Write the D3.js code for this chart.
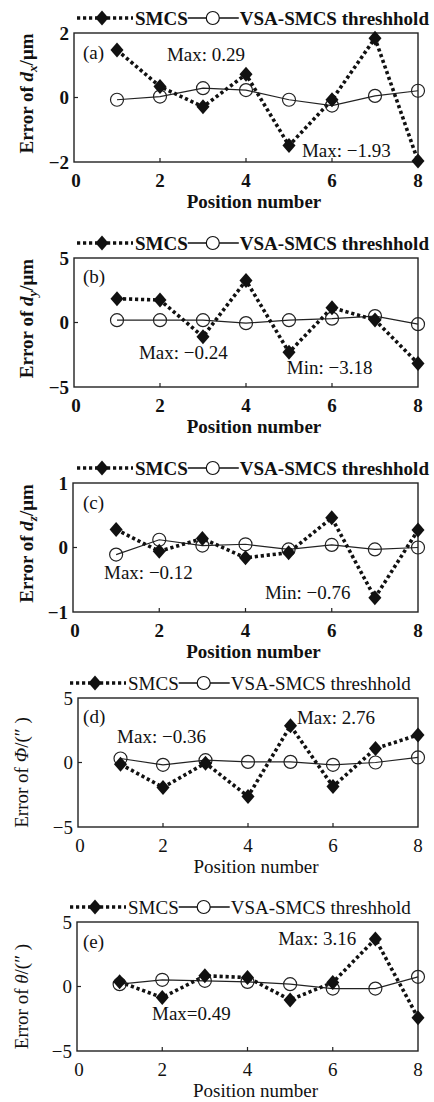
<!DOCTYPE html>
<html><head><meta charset="utf-8">
<script src="https://cdn.jsdelivr.net/npm/d3@7"></script>
<style>
html,body{margin:0;padding:0;background:#fff;}
svg{display:block;}
</style></head>
<body>
<svg id="c" width="434" height="1102"></svg>
<script>
const positions = [1,2,3,4,5,6,7,8];
const xTicks = [0,2,4,6,8];
const panelIds = ["a","b","c","d","e"];
const smcsA = [1.47, 0.34, -0.29, 0.72, -1.49, -0.07, 1.84, -1.97];
const vsaA  = [-0.07, 0.03, 0.29, 0.23, -0.07, -0.25, 0.05, 0.21];
const smcsB = [1.85, 1.74, -1.10, 3.26, -2.31, 1.15, 0.20, -3.18];
const vsaB  = [0.18, 0.18, 0.18, -0.05, 0.18, 0.30, 0.50, -0.13];
const smcsC = [0.28, -0.06, 0.14, -0.16, -0.08, 0.46, -0.78, 0.27];
const vsaC  = [-0.11, 0.12, 0.03, 0.05, -0.03, 0.04, -0.03, 0.00];
const smcsD = [-0.13, -1.93, -0.05, -2.63, 2.84, -1.86, 1.08, 2.14];
const vsaD  = [0.31, -0.18, 0.18, 0.05, 0.05, -0.18, 0.00, 0.39];
const smcsE = [0.36, -0.86, 0.83, 0.70, -1.04, 0.31, 3.69, -2.42];
const vsaE  = [0.18, 0.52, 0.44, 0.36, 0.18, -0.16, -0.16, 0.75];
const yDomains = [[-2,2],[-5,5],[-1,1],[-5,5],[-5,5]];
const yTicksList = [[-2,0,2],[-5,0,5],[-1,0,1],[-5,0,5],[-5,0,5]];
const seriesNames = ["SMCS","VSA-SMCS threshhold"];
const xTitle = "Position number";
// annotation texts with anchor positions in data units [text, x, y]
const annotations = [
  [["(a)",0.21,1.38],["Max: 0.29",2.16,1.32],["Max: \u22121.93",5.30,-1.63]],
  [["(b)",0.21,3.53],["Max: \u22120.24",1.51,-2.36],["Min: \u22123.18",4.95,-3.45]],
  [["(c)",0.23,0.69],["Max: \u22120.12",0.72,-0.395],["Min: \u22120.76",4.45,-0.705]],
  [["(d)",0.12,3.54],["Max: \u22120.36",0.92,2.0],["Max: 2.76",5.15,3.46]],
  [["(e)",0.14,3.52],["Max: 3.16",4.72,3.75],["Max=0.49",1.76,-2.1]]
];

const smcsAll=[smcsA,smcsB,smcsC,smcsD,smcsE];
const vsaAll=[vsaA,vsaB,vsaC,vsaD,vsaE];
const tops=[33,258,483,698,922];
const lefts=[74,74,73,78,77];
const right=418, H=129;
const FONT="Liberation Serif";
const svg=d3.select("#c");
// rhombus marker (wide diamond)
const rhombus={draw(ctx,size){const w=Math.sqrt(size)*0.5, h=w*1.15;ctx.moveTo(0,-h);ctx.lineTo(w,0);ctx.lineTo(0,h);ctx.lineTo(-w,0);ctx.closePath();}};
const marker=d3.symbol(rhombus,170)();

panelIds.forEach((id,i)=>{
  const bold = i<3;
  const fw = bold?"bold":"normal";
  const top=tops[i], left=lefts[i], bottom=top+H;
  const x=d3.scaleLinear().domain([0,8]).range([left,right]);
  const y=d3.scaleLinear().domain(yDomains[i]).range([bottom,top]);
  const g=svg.append("g").attr("fill","#111");
  const txt=(sel)=>sel.append("text").attr("font-family",FONT).attr("font-size",19).attr("fill","#111");
  // legend
  const ly=top-15;
  const lx0 = bold?77:70;
  const lg=g.append("g");
  lg.append("line").attr("x1",lx0).attr("x2",lx0+56).attr("y1",ly).attr("y2",ly)
    .attr("stroke","#111").attr("stroke-width",3.6).attr("stroke-dasharray","3.2,2.8");
  lg.append("path").attr("d",marker).attr("transform",`translate(${lx0+25},${ly})`).attr("fill","#111");
  const t1=txt(lg).attr("x",lx0+58).attr("y",ly+6.5).attr("font-weight",fw).text(seriesNames[0]);
  const w1=t1.node().getComputedTextLength();
  const sx=lx0+58+w1;
  lg.append("line").attr("x1",sx).attr("x2",sx+51).attr("y1",ly).attr("y2",ly).attr("stroke","#111").attr("stroke-width",1.3);
  lg.append("circle").attr("cx",sx+25).attr("cy",ly).attr("r",6.5).attr("fill","#fff").attr("stroke","#111").attr("stroke-width",1.2);
  txt(lg).attr("x",sx+52).attr("y",ly+6.5).attr("font-weight",fw).text(seriesNames[1]);

  // box
  g.append("rect").attr("x",left).attr("y",top).attr("width",right-left).attr("height",H)
    .attr("fill","none").attr("stroke","#222").attr("stroke-width",1.4);
  xTicks.slice(1,-1).forEach(t=>{
    g.append("line").attr("x1",x(t)).attr("x2",x(t)).attr("y1",bottom).attr("y2",bottom-4).attr("stroke","#222").attr("stroke-width",1.2);
  });
  yTicksList[i].slice(1,-1).forEach(t=>{
    g.append("line").attr("x1",left).attr("x2",left+4).attr("y1",y(t)).attr("y2",y(t)).attr("stroke","#222").attr("stroke-width",1.2);
  });
  const fmt=d3.format("");
  xTicks.forEach(t=>{
    txt(g).attr("x",x(t)+(t===0?2:0)).attr("y",bottom+25).attr("text-anchor","middle")
      .attr("font-weight",fw).text(fmt(t));
  });
  yTicksList[i].forEach(t=>{
    txt(g).attr("x",left-5).attr("y",y(t)+6.5).attr("text-anchor","end")
      .attr("font-weight",fw).text(fmt(t));
  });
  txt(g).attr("x",(left+right)/2+8).attr("y",bottom+46).attr("text-anchor","middle")
    .attr("font-weight",fw).text(xTitle);
  // y label
  const ylx = bold?33:28;
  const yOff = bold?-4:10;
  const yl=txt(g).attr("transform",`translate(${ylx},${(top+bottom)/2+yOff}) rotate(-90)`)
    .attr("text-anchor","middle").attr("font-weight",fw);
  if(i<3){
    const sub=["x","y","z"][i];
    yl.append("tspan").text("Error of ");
    yl.append("tspan").attr("font-style","italic").text("d");
    yl.append("tspan").attr("font-style","italic").attr("font-size",13).attr("dy",4).text(sub);
    yl.append("tspan").attr("dy",-4).text("/\u03bcm");
  } else {
    yl.append("tspan").text("Error of ");
    yl.append("tspan").attr("font-style","italic").text(i===3?"\u03a6":"\u03b8");
    yl.append("tspan").text("/(\u2033 )");
  }
  // series
  const line=d3.line().x((d,j)=>x(positions[j])).y(d=>y(d));
  g.append("path").datum(vsaAll[i]).attr("d",line).attr("fill","none").attr("stroke","#222").attr("stroke-width",1.2);
  g.append("path").datum(smcsAll[i]).attr("d",line).attr("fill","none").attr("stroke","#111")
    .attr("stroke-width",3.6).attr("stroke-dasharray","3.2,2.8");
  g.selectAll("circle.v").data(vsaAll[i]).enter().append("circle")
    .attr("cx",(d,j)=>x(positions[j])).attr("cy",d=>y(d)).attr("r",6.5)
    .attr("fill","none").attr("stroke","#222").attr("stroke-width",1.2);
  g.selectAll("path.s").data(smcsAll[i]).enter().append("path")
    .attr("d",marker)
    .attr("transform",(d,j)=>`translate(${x(positions[j])},${y(d)})`).attr("fill","#111");
  annotations[i].forEach(a=>{
    txt(g).attr("x",x(a[1])).attr("y",y(a[2])+6.5).text(a[0]);
  });
});
</script>
</body></html>
